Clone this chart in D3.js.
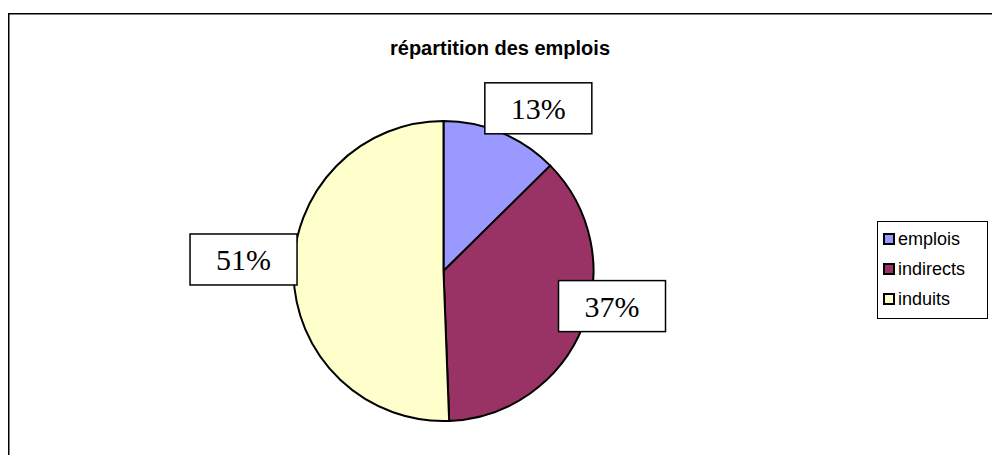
<!DOCTYPE html>
<html>
<head>
<meta charset="utf-8">
<script src="https://d3js.org/d3.v7.min.js"></script>
<style>
  body { margin: 0; background: #fff; }
</style>
</head>
<body>
<div id="pie"></div>
<script>
// Data
const categories = ["emplois", "indirects", "induits"];
const values = [12.6, 36.8, 50.6];
const colors = ["#9999FF", "#993366", "#FFFFCC"];
const title = "répartition des emplois";

// Dimensions
const width = 992;
const height = 455;
const cx = 443.5, cy = 271, radius = 150;

const svg = d3.select("#pie")
  .append("svg")
  .attr("width", width)
  .attr("height", height);

// outer chart border (right and bottom run off the page)
svg.append("rect")
  .attr("x", 8.75).attr("y", 13.75)
  .attr("width", 1100).attr("height", 600)
  .attr("fill", "none")
  .attr("stroke", "#000")
  .attr("stroke-width", 1.5);

// title
svg.append("text")
  .attr("x", 500).attr("y", 55)
  .attr("text-anchor", "middle")
  .attr("font-family", "Liberation Sans, Arial, sans-serif")
  .attr("font-weight", "bold")
  .attr("font-size", "20px")
  .text(title);

// pie layout, clockwise from 12 o'clock
const data = categories.map((c, i) => ({name: c, value: values[i]}));
const total = d3.sum(values);
const pie = d3.pie().value(d => d.value).sort(null);
const arcs = pie(data);
const arc = d3.arc().innerRadius(0).outerRadius(radius);
const color = d3.scaleOrdinal().domain(categories).range(colors);

const g = svg.append("g").attr("transform", `translate(${cx},${cy})`);

g.selectAll("path")
  .data(arcs)
  .enter()
  .append("path")
  .attr("d", arc)
  .attr("fill", d => color(d.data.name))
  .attr("stroke", "#000")
  .attr("stroke-width", 2);

// percentage labels in boxes, placed outside the slices
const labelArc = d3.arc().innerRadius(185).outerRadius(185);
const nudge = [[23.5, 8], [-3.5, -33], [-15, -15]]; // excel "best fit" shifts
const fmt = d3.format(".0%");
const boxW = 107, boxH = 51;

const labels = g.selectAll(".lbl")
  .data(arcs)
  .enter()
  .append("g")
  .attr("class", "lbl")
  .attr("transform", (d, i) => {
    const [x, y] = labelArc.centroid(d);
    return `translate(${x + nudge[i][0]},${y + nudge[i][1]})`;
  });

labels.append("rect")
  .attr("x", -boxW / 2).attr("y", -boxH / 2)
  .attr("width", boxW).attr("height", boxH)
  .attr("fill", "#fff")
  .attr("stroke", "#000")
  .attr("stroke-width", 1.5);

labels.append("text")
  .attr("text-anchor", "middle")
  .attr("dy", "0.35em")
  .attr("font-family", "Liberation Serif, Times New Roman, serif")
  .attr("font-size", "30px")
  .text(d => fmt(d.data.value / total));

// legend
const legend = svg.append("g").attr("transform", "translate(877,221)");
legend.append("rect")
  .attr("x", 0.5).attr("y", 0.5)
  .attr("width", 110).attr("height", 97)
  .attr("fill", "#fff")
  .attr("stroke", "#000")
  .attr("stroke-width", 1);

const legendY = d3.scalePoint().domain(categories).range([18, 78]);

const items = legend.selectAll(".item")
  .data(categories)
  .enter()
  .append("g")
  .attr("class", "item")
  .attr("transform", d => `translate(7,${legendY(d)})`);

items.append("rect")
  .attr("x", 0).attr("y", -5)
  .attr("width", 10).attr("height", 10)
  .attr("fill", d => color(d))
  .attr("stroke", "#000")
  .attr("stroke-width", 2);

items.append("text")
  .attr("x", 14)
  .attr("dy", "0.35em")
  .attr("font-family", "Liberation Sans, Arial, sans-serif")
  .attr("font-size", "18px")
  .text(d => d);
</script>
</body>
</html>
